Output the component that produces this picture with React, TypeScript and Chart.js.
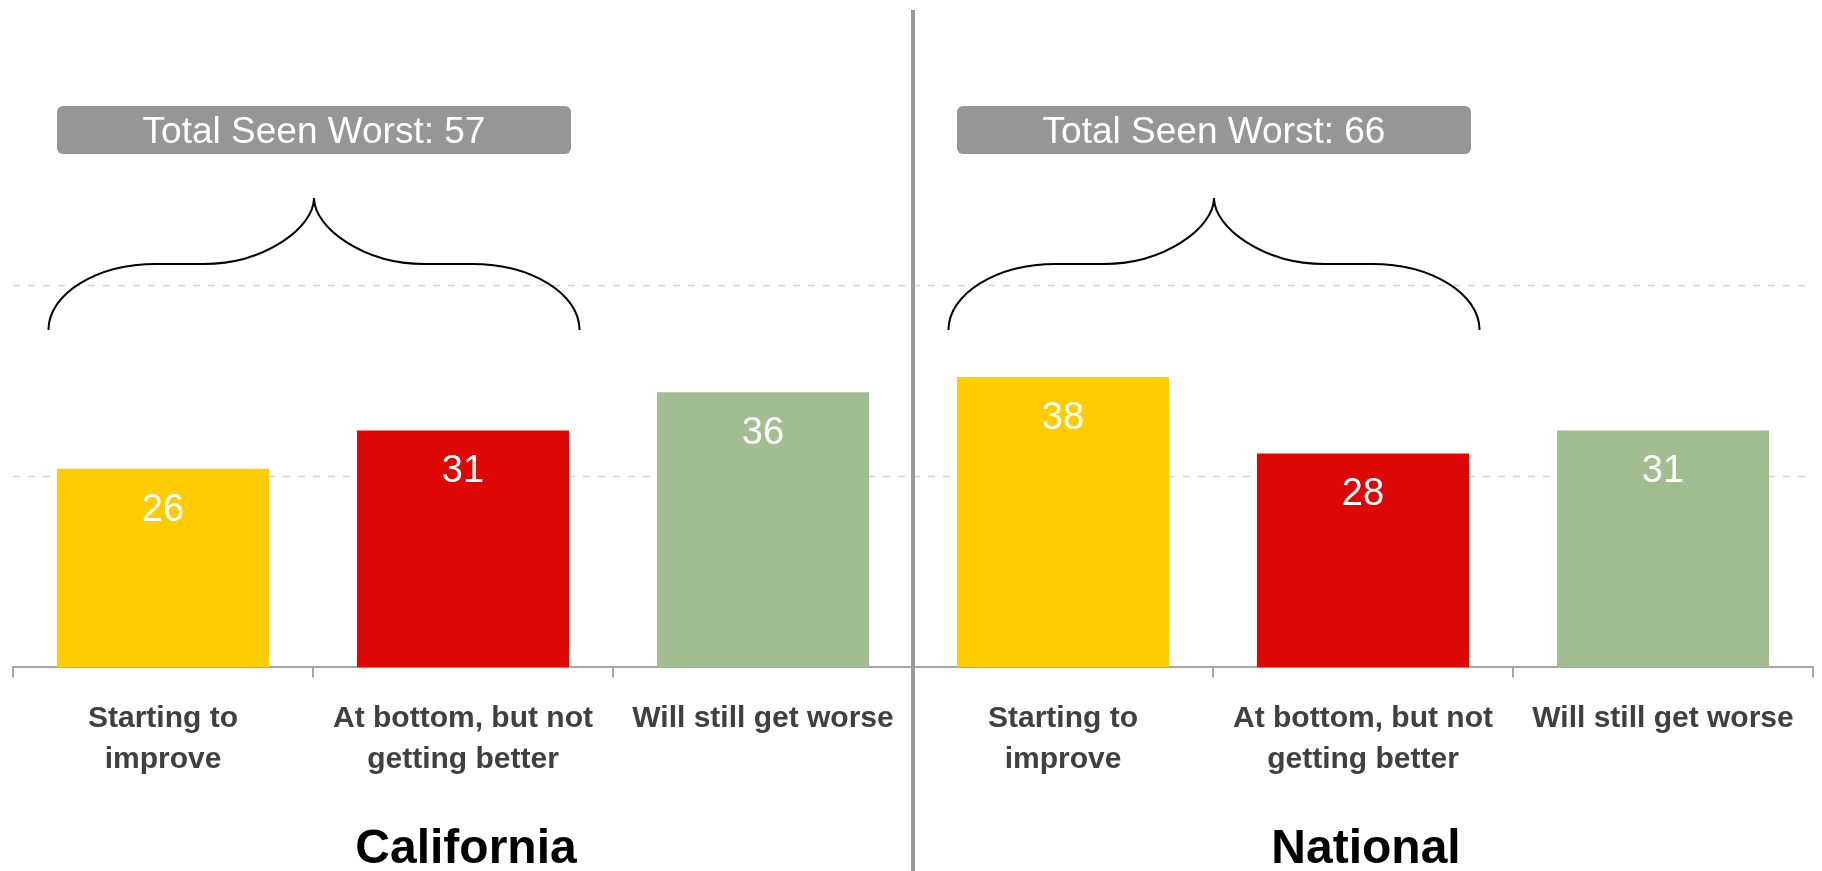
import React, { useEffect, useRef } from "react";
import { Chart, registerables } from "chart.js";

Chart.register(...registerables);

const regions = ["California", "National"];
const categories: string[][] = [
  ["Starting to", "improve"],
  ["At bottom, but not", "getting better"],
  ["Will still get worse"],
];
const californiaValues = [26, 31, 36];
const nationalValues = [38, 28, 31];
const barColors = ["#FFCC00", "#DD0806", "#A2BD8F"];
const gridValues = [25, 50];
const totalPrefix = "Total Seen Worst: ";

const FONT = "'Liberation Sans', Arial, Helvetica, sans-serif";

const allValues = [...californiaValues, ...nationalValues];
const allLabels = [...categories, ...categories];
const allColors = [...barColors, ...barColors];

const overlayPlugin = {
  id: "overlay",
  beforeDatasetsDraw(chart: any) {
    const { ctx, chartArea } = chart;
    const y = chart.scales.y;
    ctx.save();
    ctx.strokeStyle = "#d4d4d4";
    ctx.lineWidth = 1.5;
    ctx.setLineDash([7, 8]);
    gridValues.forEach((v) => {
      const py = Math.round(y.getPixelForValue(v)) + 0.5;
      ctx.beginPath();
      ctx.moveTo(chartArea.left, py);
      ctx.lineTo(chartArea.right, py);
      ctx.stroke();
    });
    ctx.restore();
  },
  afterDatasetsDraw(chart: any) {
    const { ctx } = chart;
    const meta = chart.getDatasetMeta(0);
    const bars = meta.data;
    ctx.save();
    // value labels
    ctx.fillStyle = "#ffffff";
    ctx.font = `38px ${FONT}`;
    ctx.textAlign = "center";
    ctx.textBaseline = "alphabetic";
    bars.forEach((bar: any, i: number) => {
      ctx.fillText(String(allValues[i]), bar.x, bar.y + 52);
    });

    // divider
    const divX = (bars[2].x + bars[3].x) / 2;
    ctx.strokeStyle = "#9a9a9a";
    ctx.lineWidth = 4;
    ctx.beginPath();
    ctx.moveTo(divX, 10);
    ctx.lineTo(divX, chart.height);
    ctx.stroke();

    regions.forEach((name, p) => {
      const vals = p === 0 ? californiaValues : nationalValues;
      const b0 = bars[p * 3];
      const b1 = bars[p * 3 + 1];
      const b2 = bars[p * 3 + 2];
      const tipX = (b0.x + b1.x) / 2 + 1;
      const left = b0.x - b0.width / 2 - 7;
      const right = b1.x + b1.width / 2 + 12;
      const half = (right - left) / 2;
      const tipY = 198;
      const flatY = 264;
      const endY = 330;
      const k = 0.55;

      // brace
      ctx.strokeStyle = "#000000";
      ctx.lineWidth = 2;
      ctx.setLineDash([]);
      const drawHalf = (sign: number) => {
        const ex = tipX + sign * half;
        const f1 = tipX + sign * half * 0.595;
        const f2 = tipX + sign * half * 0.415;
        ctx.beginPath();
        ctx.moveTo(ex, endY);
        ctx.bezierCurveTo(ex, endY - k * (endY - flatY), f1 + sign * k * half * 0.405, flatY, f1, flatY);
        ctx.lineTo(f2, flatY);
        ctx.bezierCurveTo(f2 - sign * k * (half * 0.415), flatY, tipX, flatY - k * (flatY - tipY), tipX, tipY);
        ctx.stroke();
      };
      drawHalf(-1);
      drawHalf(1);

      // total box
      const boxW = 514;
      const boxH = 48;
      const bx = tipX - boxW / 2;
      const by = 106;
      ctx.fillStyle = "#969696";
      ctx.beginPath();
      (ctx as any).roundRect(bx, by, boxW, boxH, 6);
      ctx.fill();
      ctx.fillStyle = "#ffffff";
      ctx.font = `37px ${FONT}`;
      ctx.textAlign = "center";
      ctx.textBaseline = "alphabetic";
      ctx.fillText(totalPrefix + String(vals[0] + vals[1]), tipX, 143);

      // region title
      ctx.fillStyle = "#000000";
      ctx.font = `bold 48px ${FONT}`;
      ctx.fillText(name, (b0.x + b2.x) / 2 + 3, 863);
    });
    ctx.restore();
  },
};

export default function App() {
  const canvasRef = useRef<HTMLCanvasElement | null>(null);

  useEffect(() => {
    if (!canvasRef.current) return;
    const chart = new Chart(canvasRef.current, {
      type: "bar",
      data: {
        labels: allLabels,
        datasets: [
          {
            data: allValues,
            backgroundColor: allColors,
            borderWidth: 0,
            barPercentage: 0.707,
            categoryPercentage: 1,
          },
        ],
      },
      options: {
        responsive: false,
        animation: false,
        devicePixelRatio: 1,
        layout: { padding: { left: 13, right: 9, top: 56, bottom: 70 } },
        plugins: {
          legend: { display: false },
          tooltip: { enabled: false },
          title: { display: false },
        },
        scales: {
          x: {
            offset: true,
            grid: {
              display: true,
              offset: true,
              drawOnChartArea: false,
              drawTicks: true,
              tickLength: 10,
              color: "#a6a6a6",
              lineWidth: 2,
            },
            border: { display: true, color: "#a6a6a6", width: 2 },
            ticks: {
              color: "#404040",
              font: { family: FONT, size: 30, weight: "bold", lineHeight: 1.36 },
              padding: 21,
              maxRotation: 0,
              minRotation: 0,
              autoSkip: false,
            },
          },
          y: {
            display: false,
            min: 0,
            max: 80,
          },
        },
      },
      plugins: [overlayPlugin],
    });
    return () => chart.destroy();
  }, []);

  return (
    <div style={{ position: "absolute", left: 0, top: 0, width: 1822, height: 871, background: "#ffffff" }}>
      <canvas ref={canvasRef} width={1822} height={871} style={{ display: "block" }} />
    </div>
  );
}
